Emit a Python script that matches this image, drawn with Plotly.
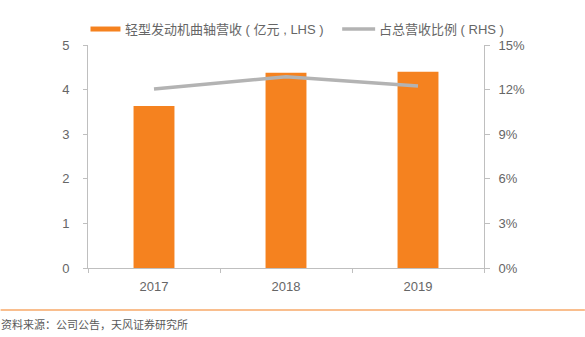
import plotly.graph_objects as go

years = ["2017", "2018", "2019"]
revenue = [3.63, 4.38, 4.40]          # 亿元, LHS
share = [0.1204, 0.1287, 0.1225]      # RHS

bar_name = "轻型发动机曲轴营收（亿元，LHS）"
line_name = "占总营收比例（RHS）"
legend_bar_text = "轻型发动机曲轴营收 ( 亿元 , LHS )"
legend_line_text = "占总营收比例 ( RHS )"
source_text = "资料来源：公司公告，天风证券研究所"

FONT = "Liberation Sans, Arial, Noto Sans CJK SC, sans-serif"
TXT = "#666666"
AX = "#bfbfbf"
ORANGE = "#F5821F"
GRAY = "#b3b3b3"

fig = go.Figure()
fig.add_trace(go.Bar(x=years, y=revenue, name=bar_name, marker_color=ORANGE,
                     marker_line_width=0, width=0.31, yaxis="y", showlegend=False))
fig.add_trace(go.Scatter(x=years, y=share, name=line_name, mode="lines",
                         line=dict(color=GRAY, width=3.5), yaxis="y2", showlegend=False))

L, R, T, B = 87.5, 101, 45, 68.7
W, H = 585, 337
pw, ph = W - L - R, H - T - B

def px(x):
    return (x - L) / pw

def py(y):
    return (H - B - y) / ph

shapes = [
    dict(type="rect", xref="paper", yref="paper", x0=px(90), x1=px(120),
         y0=py(31.5), y1=py(26.5), fillcolor=ORANGE, line_width=0),
    dict(type="line", xref="paper", yref="paper", x0=px(342), x1=px(375),
         y0=py(29), y1=py(29), line=dict(color=GRAY, width=3.5)),
    dict(type="line", xref="paper", yref="paper", x0=px(0), x1=px(585),
         y0=py(310.3), y1=py(310.3), line=dict(color="#F7A868", width=1.5)),
]
annotations = [
    dict(text=legend_bar_text, xref="paper", yref="paper", x=px(123), y=py(29),
         xanchor="left", yanchor="middle", showarrow=False,
         font=dict(family=FONT, size=13, color=TXT)),
    dict(text=legend_line_text, xref="paper", yref="paper", x=px(377), y=py(29),
         xanchor="left", yanchor="middle", showarrow=False,
         font=dict(family=FONT, size=13, color=TXT)),
    dict(text=source_text, xref="paper", yref="paper", x=px(-2), y=py(324),
         xanchor="left", yanchor="middle", showarrow=False,
         font=dict(family="Noto Sans CJK SC, sans-serif", size=11, color="#595959")),
]

fig.update_layout(
    width=W, height=H,
    margin=dict(l=L, r=R, t=T, b=B, pad=0),
    paper_bgcolor="white", plot_bgcolor="white",
    font=dict(family=FONT, size=13, color=TXT),
    showlegend=False,
    bargap=0.69,
    xaxis=dict(type="category", showline=True, linecolor=AX, linewidth=1,
               ticks="outside", tickson="boundaries", ticklen=4, tickcolor=AX,
               showgrid=False, zeroline=False, ticklabelstandoff=6,
               tickfont=dict(size=13, color=TXT)),
    yaxis=dict(range=[0, 5], dtick=1, showline=True, linecolor=AX, linewidth=1,
               ticks="outside", ticklen=4, tickcolor=AX, showgrid=False,
               zeroline=False, ticklabelstandoff=11,
               tickfont=dict(size=13, color=TXT)),
    yaxis2=dict(range=[0, 0.15], dtick=0.03, tickformat=".0%", overlaying="y",
                side="right", showline=True, linecolor=AX, linewidth=1,
                ticks="outside", ticklen=5, tickcolor=AX, showgrid=False,
                zeroline=False, ticklabelstandoff=6,
                tickfont=dict(size=13, color=TXT)),
    shapes=shapes,
    annotations=annotations,
)

fig.write_html("out.html")
